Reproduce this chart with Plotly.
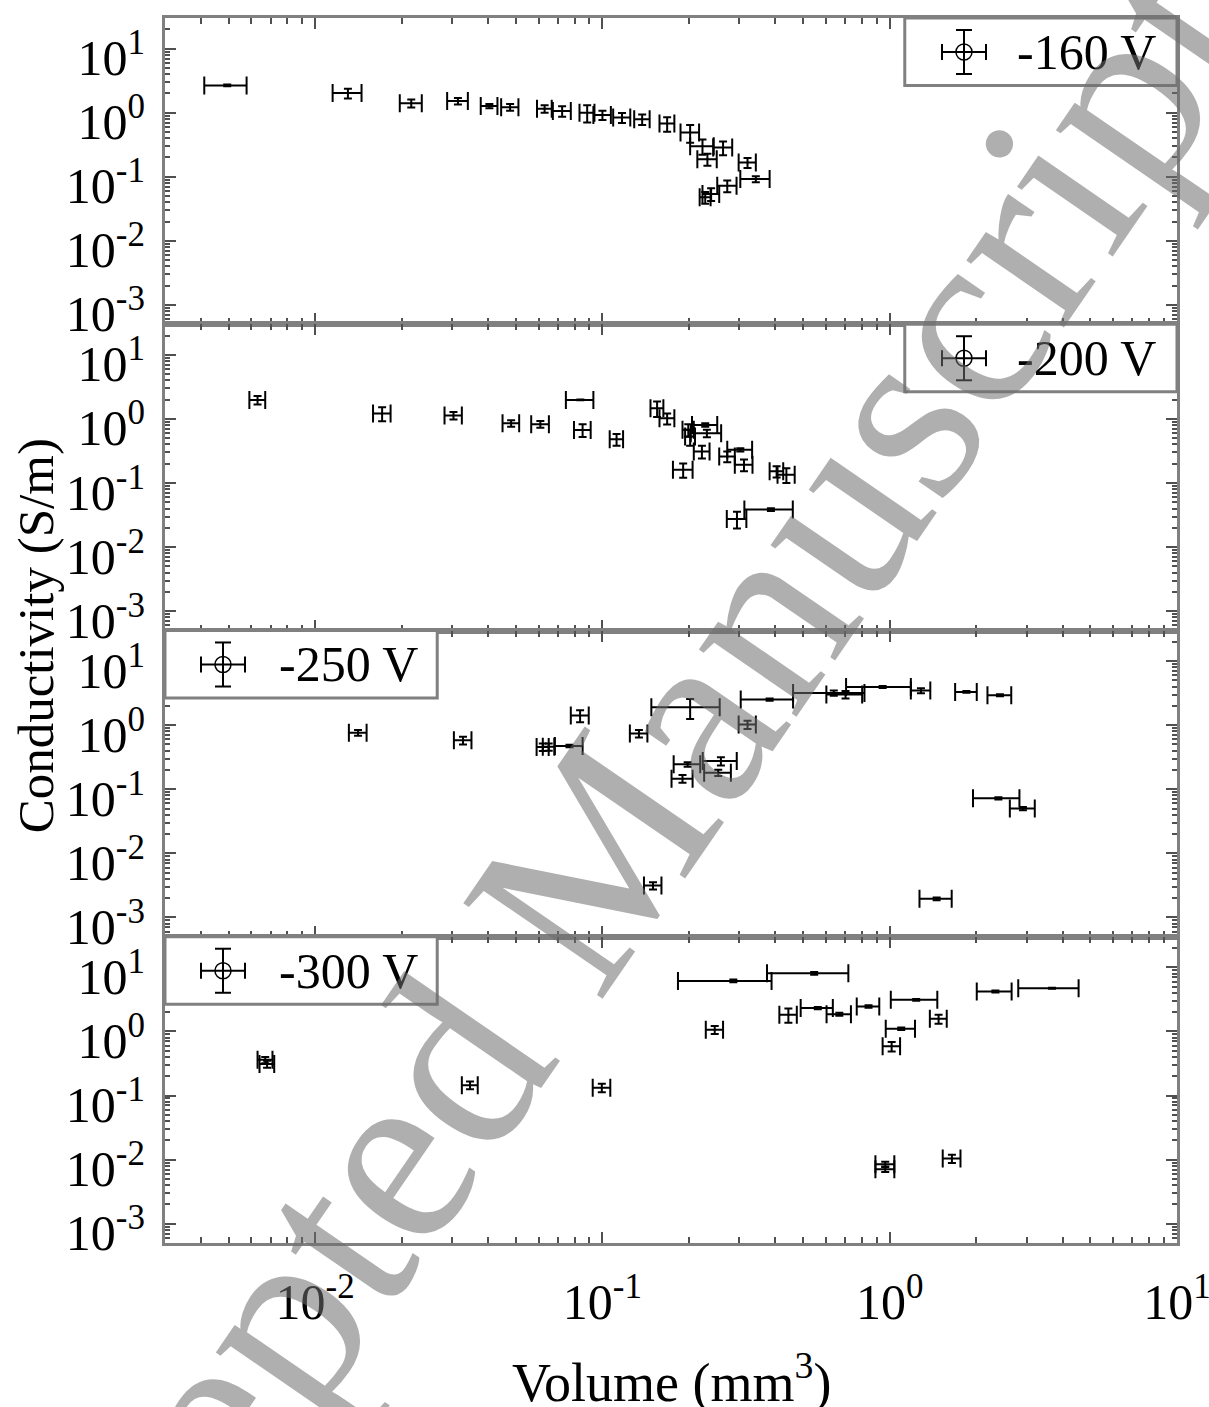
import math
import plotly.graph_objects as go
from plotly.subplots import make_subplots

# ---------------- data ----------------
labels = ["-160 V", "-200 V", "-250 V", "-300 V"]

v160_x = [0.00494, 0.0130, 0.0216, 0.0314, 0.0404, 0.0477, 0.0629, 0.0724, 0.0885, 0.100,
          0.117, 0.1375, 0.168, 0.202, 0.223, 0.263, 0.232, 0.320, 0.342, 0.272, 0.239, 0.228]
v160_xerr = [0.00083, 0.0015, 0.0019, 0.0026, 0.0027, 0.0033, 0.0037, 0.0052, 0.0053, 0.007,
             0.008, 0.0085, 0.010, 0.015, 0.021, 0.020, 0.018, 0.022, 0.040, 0.021, 0.016, 0.010]
v160_y = [2.66, 2.02, 1.40, 1.52, 1.27, 1.22, 1.15, 1.06, 1.00, 0.92,
          0.84, 0.79, 0.675, 0.49, 0.30, 0.286, 0.188, 0.167, 0.092, 0.0725, 0.054, 0.048]
v160_yerr = [0.08, 0.35, 0.2, 0.18, 0.1, 0.15, 0.15, 0.2, 0.3, 0.15,
             0.15, 0.15, 0.17, 0.15, 0.08, 0.07, 0.04, 0.03, 0.01, 0.015, 0.012, 0.01]

v200_x = [0.0063, 0.0171, 0.0303, 0.0481, 0.0608, 0.0838, 0.0853, 0.112, 0.155, 0.168, 0.199,
          0.228, 0.231, 0.202, 0.222, 0.191, 0.272, 0.302, 0.311, 0.404, 0.437, 0.386, 0.294]
v200_xerr = [0.0004, 0.0012, 0.0021, 0.0032, 0.0043, 0.0092, 0.0057, 0.006, 0.008, 0.010, 0.009,
             0.023, 0.028, 0.008, 0.014, 0.015, 0.017, 0.030, 0.022, 0.022, 0.030, 0.074, 0.023]
v200_y = [1.98, 1.22, 1.13, 0.856, 0.826, 1.98, 0.674, 0.48, 1.47, 1.02, 0.675,
          0.807, 0.60, 0.53, 0.311, 0.161, 0.26, 0.33, 0.193, 0.152, 0.135, 0.0385, 0.0275]
v200_yerr = [0.3, 0.3, 0.15, 0.1, 0.1, 0.03, 0.15, 0.1, 0.4, 0.2, 0.15,
             0.05, 0.08, 0.15, 0.07, 0.04, 0.05, 0.02, 0.04, 0.03, 0.035, 0.002, 0.008]

v250_x = [0.0141, 0.0327, 0.0620, 0.0650, 0.0768, 0.0836, 0.134, 0.202, 0.320, 0.382, 0.639, 0.702,
          0.945, 1.285, 1.85, 2.42, 2.39, 2.91, 1.457, 0.150, 0.198, 0.190, 0.2585, 0.253]
v250_xerr = [0.001, 0.0023, 0.003, 0.003, 0.0085, 0.006, 0.0094, 0.054, 0.022, 0.079, 0.178, 0.10,
             0.24, 0.10, 0.16, 0.23, 0.44, 0.29, 0.187, 0.0105, 0.021, 0.016, 0.035, 0.027]
v250_y = [0.761, 0.58, 0.457, 0.46, 0.473, 1.41, 0.742, 1.90, 1.02, 2.51, 3.18, 3.0,
          3.94, 3.46, 3.30, 2.93, 0.0724, 0.050, 0.00195, 0.00314, 0.245, 0.1465, 0.2757, 0.1816]
v250_yerr = [0.08, 0.08, 0.06, 0.06, 0.02, 0.3, 0.1, 0.65, 0.15, 0.1, 0.3, 0.4,
             0.15, 0.3, 0.1, 0.1, 0.003, 0.003, 0.0001, 0.0004, 0.02, 0.02, 0.04, 0.02]

v300_x = [0.0067, 0.0068, 0.0346, 0.0995, 0.246, 0.2856, 0.546, 0.444, 0.562, 0.668,
          0.844, 1.237, 1.48, 1.097, 1.016, 2.334, 3.675, 0.965, 0.965, 1.647]
v300_xerr = [0.0004, 0.0004, 0.0022, 0.007, 0.017, 0.1024, 0.172, 0.031, 0.072, 0.065,
             0.076, 0.228, 0.10, 0.128, 0.071, 0.324, 0.872, 0.073, 0.073, 0.117]
v300_y = [0.36, 0.31, 0.145, 0.132, 1.06, 6.13, 8.07, 1.82, 2.31, 1.86,
          2.45, 3.11, 1.57, 1.10, 0.585, 4.19, 4.72, 0.0085, 0.0071, 0.01037]
v300_yerr = [0.04, 0.04, 0.02, 0.02, 0.15, 0.3, 0.4, 0.45, 0.1, 0.1,
             0.1, 0.1, 0.25, 0.05, 0.1, 0.15, 0.1, 0.0008, 0.0007, 0.0015]

x_tickvals = [0.01, 0.1, 1, 10]
x_ticktext = ["10<sup>-2</sup>", "10<sup>-1</sup>", "10<sup>0</sup>", "10<sup>1</sup>"]
y_tickvals = [0.001, 0.01, 0.1, 1, 10]
y_ticktext = ["10<sup>-3</sup>", "10<sup>-2</sup>", "10<sup>-1</sup>", "10<sup>0</sup>", "10<sup>1</sup>"]

panels = [
    (v160_x, v160_xerr, v160_y, v160_yerr),
    (v200_x, v200_xerr, v200_y, v200_yerr),
    (v250_x, v250_xerr, v250_y, v250_yerr),
    (v300_x, v300_xerr, v300_y, v300_yerr),
]
legend_side = ["right", "right", "left", "left"]

# ---------------- figure ----------------
FONT = "Liberation Serif, Times New Roman, serif"
AXC = "#808080"
TKC = "#505050"

fig = make_subplots(rows=4, cols=1, shared_xaxes=True, vertical_spacing=0)

for i, (x, xe, y, ye) in enumerate(panels, start=1):
    fig.add_trace(go.Scatter(
        x=x, y=y, mode="markers",
        marker=dict(size=2, color="black"),
        error_x=dict(type="data", array=xe, color="black", thickness=2, width=9),
        error_y=dict(type="data", array=ye, color="black", thickness=2, width=4),
        showlegend=False, hoverinfo="skip"), row=i, col=1)

minor_x = [k * 10.0 ** n for n in range(-3, 1) for k in range(2, 10)]
minor_y = [k * 10.0 ** n for n in range(-4, 2) for k in range(2, 10)]

for i in range(1, 5):
    fig.update_xaxes(
        type="log", range=[math.log10(0.003), 1.0003], automargin=False,
        showline=True, linecolor=AXC, linewidth=3, mirror="ticks",
        ticks="inside", ticklen=11, tickwidth=2, tickcolor=TKC,
        tickvals=x_tickvals, ticktext=x_ticktext,
        showticklabels=(i == 4), ticklabeloverflow="allow",
        tickfont=dict(family=FONT, size=50, color="black"),
        ticklabelstandoff=13,
        minor=dict(tickvals=minor_x, ticks="inside", ticklen=6, tickwidth=2, tickcolor=TKC, showgrid=False),
        showgrid=False, zeroline=False, row=i, col=1)
    fig.update_yaxes(
        type="log", range=[math.log10(5e-4), math.log10(30)], automargin=False,
        showline=True, linecolor=AXC, linewidth=3, mirror="ticks",
        ticks="inside", ticklen=11, tickwidth=2, tickcolor=TKC,
        tickvals=y_tickvals, ticktext=y_ticktext, ticklabeloverflow="allow",
        tickfont=dict(family=FONT, size=50, color="black"),
        ticklabelstandoff=7, ticklabelshift=9,
        minor=dict(tickvals=minor_y, ticks="inside", ticklen=5, tickwidth=1.5, tickcolor=TKC, showgrid=False),
        showgrid=False, zeroline=False, row=i, col=1)

# ---------------- legend boxes (drawn in axis-domain coordinates) ----------------
shapes = []
annotations = []
for i in range(1, 5):
    sfx = "" if i == 1 else str(i)
    xr, yr = f"x{sfx} domain", f"y{sfx} domain"
    if legend_side[i - 1] == "right":
        bx0, bx1 = 0.731, 1.0
        cx, tx = 0.7895, 0.840
    else:
        bx0, bx1 = 0.0, 0.269
        cx, tx = 0.0573, 0.1107
    by0, by1 = 0.780, 1.0
    cy = 0.889
    shapes.append(dict(type="rect", xref=xr, yref=yr, x0=bx0, x1=bx1, y0=by0, y1=by1,
                       line=dict(color=AXC, width=3), fillcolor="white", layer="above"))
    hx, hy = 22 / 1012, 22 / 306      # half lengths of the symbol's bars
    cpx, cpy = 8 / 1012, 8 / 306       # cap half lengths
    blk = dict(color="black", width=2)
    shapes += [
        dict(type="line", xref=xr, yref=yr, x0=cx - hx, x1=cx + hx, y0=cy, y1=cy, line=blk, layer="above"),
        dict(type="line", xref=xr, yref=yr, x0=cx, x1=cx, y0=cy - hy, y1=cy + hy, line=blk, layer="above"),
        dict(type="line", xref=xr, yref=yr, x0=cx - hx, x1=cx - hx, y0=cy - cpy, y1=cy + cpy, line=blk, layer="above"),
        dict(type="line", xref=xr, yref=yr, x0=cx + hx, x1=cx + hx, y0=cy - cpy, y1=cy + cpy, line=blk, layer="above"),
        dict(type="line", xref=xr, yref=yr, x0=cx - cpx, x1=cx + cpx, y0=cy - hy, y1=cy - hy, line=blk, layer="above"),
        dict(type="line", xref=xr, yref=yr, x0=cx - cpx, x1=cx + cpx, y0=cy + hy, y1=cy + hy, line=blk, layer="above"),
        dict(type="circle", xref=xr, yref=yr, x0=cx - cpx, x1=cx + cpx, y0=cy - cpy, y1=cy + cpy,
             line=dict(color="black", width=1.5), fillcolor="rgba(0,0,0,0)", layer="above"),
    ]
    annotations.append(dict(xref=xr, yref=yr, x=tx, y=cy, text=labels[i - 1], showarrow=False,
                            xanchor="left", yanchor="middle",
                            font=dict(family=FONT, size=50, color="black")))

# axis titles
annotations.append(dict(xref="paper", yref="paper", x=-0.1275, y=0.496, text="Conductivity (S/m)",
                        textangle=-90, showarrow=False, xanchor="center", yanchor="middle",
                        font=dict(family=FONT, size=51, color="black")))
annotations.append(dict(xref="paper", yref="paper", x=0.5, y=-0.111, text="Volume (mm<sup>3</sup>)",
                        showarrow=False, xanchor="center", yanchor="middle",
                        font=dict(family=FONT, size=54, color="black")))
# watermark
annotations.append(dict(xref="paper", yref="paper", x=0.3957, y=0.281, text="Accepted Manuscript",
                        textangle=-55.5, showarrow=False, xanchor="center", yanchor="middle",
                        font=dict(family=FONT, size=258, color="rgba(110,110,110,0.55)")))

fig.update_layout(
    width=1209, height=1407,
    margin=dict(l=165, r=32, t=18, b=164, autoexpand=False),
    paper_bgcolor="white", plot_bgcolor="white",
    shapes=shapes, annotations=annotations,
    showlegend=False,
)

fig.write_html("out.html")
